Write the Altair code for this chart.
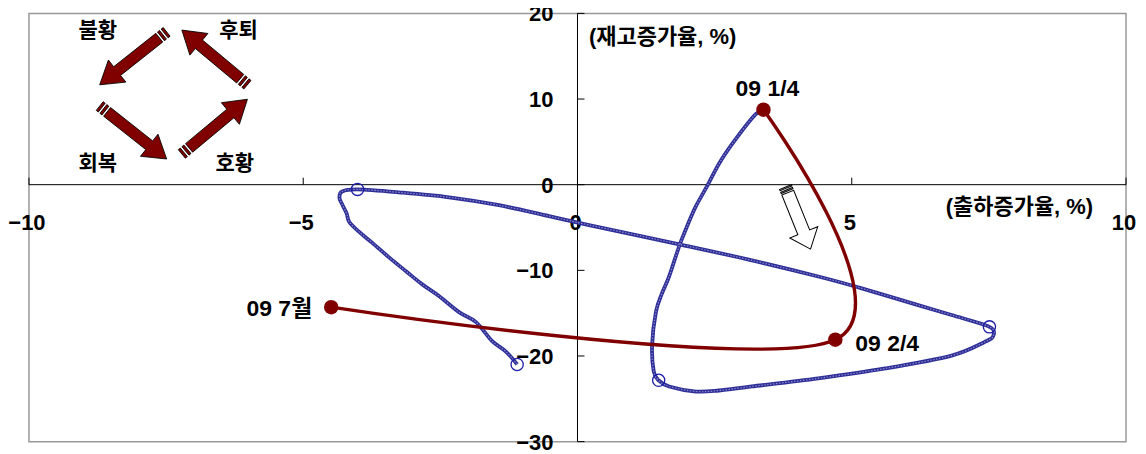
import altair as alt
import pandas as pd

# ---------------- data ----------------
X_DOMAIN = [-10, 10]
Y_DOMAIN = [-30, 20]

x_ticks = [-10, -5, 0, 5, 10]
x_tick_labels = ["−10", "−5", "0", "5", "10"]
y_ticks = [20, 10, 0, -10, -20, -30]
y_tick_labels = ["20", "10", "0", "−10", "−20", "−30"]

# historical path (shipment growth %, inventory growth %)
blue_x = [-1.10, -1.30, -1.56, -1.85, -2.16, -2.52, -2.83, -3.12, -3.43, -3.74,
          -3.98, -4.16, -4.21, -4.30, -4.34, -4.29, -4.01, -3.25, -2.34, -1.43,
          -0.52, 0.21, 1.90, 3.12, 4.39, 5.12, 6.21, 6.82, 7.51, 7.58,
          7.43, 6.82, 5.61, 4.39, 3.18, 2.58, 2.16, 1.67, 1.48, 1.39,
          1.36, 1.43, 1.54, 1.67, 1.85, 1.97, 2.15, 2.35, 2.58, 2.82,
          3.18, 3.30]
blue_y = [-20.99, -19.51, -18.24, -16.04, -14.88, -13.03, -11.64, -10.14, -8.52, -6.79,
          -5.52, -4.36, -3.33, -2.17, -1.48, -0.79, -0.55, -0.90, -1.48, -2.40,
          -3.67, -4.71, -7.02, -8.75, -10.72, -11.99, -14.06, -15.22, -16.60, -17.64,
          -18.34, -19.95, -21.46, -22.61, -23.56, -24.03, -24.15, -23.56, -22.84, -21.80,
          -18.79, -14.86, -12.70, -10.72, -7.25, -5.29, -2.63, -0.32, 2.45, 4.76,
          7.76, 8.45]
blue_mark_x = [-1.10, -4.01, 7.51, 1.48]
blue_mark_y = [-20.99, -0.55, -16.60, -22.84]

red_labels = ["09 1/4", "09 2/4", "09 7월"]
red_x = [3.39, 4.70, -4.49]
red_y = [8.76, -18.10, -14.30]

x_title = "(출하증가율, %)"
y_title = "(재고증가율, %)"

cycle_labels = ["불황", "후퇴", "회복", "호황"]
cycle_label_x = [-8.745, -6.18, -8.745, -6.25]
cycle_label_y = [17.92, 17.92, 2.45, 2.45]
cycle_arrow_x = [-8.10, -6.615, -8.10, -6.615]
cycle_arrow_y = [14.75, 14.86, 6.09, 6.78]
cycle_arrow_angle = [141.65, 219.8, 38.35, 320.2]

move_arrow_x = [4.02]
move_arrow_y = [-3.90]
move_arrow_angle = [68]

# ---------------- styles ----------------
NUM_FONT = "Liberation Sans, Arial, Noto Sans CJK KR"
KR_FONT = "Liberation Sans, Noto Sans CJK KR"
DARK_RED = "#800000"
BLUE = "#2e2e96"
BLUE_LIGHT = "#8a8ad2"

RED_ARROW = ("M-1,-0.13L-0.94,-0.13L-0.94,0.13L-1,0.13Z "
             "M-0.89,-0.13L-0.83,-0.13L-0.83,0.13L-0.89,0.13Z "
             "M-0.78,-0.13L0.48,-0.13L0.48,-0.33L1,0L0.48,0.33L0.48,0.13L-0.78,0.13Z")
WHITE_ARROW = ("M-1,-0.19L-0.96,-0.19L-0.96,0.19L-1,0.19Z "
               "M-0.91,-0.19L-0.87,-0.19L-0.87,0.19L-0.91,0.19Z "
               "M-0.82,-0.19L0.46,-0.19L0.46,-0.45L1,0L0.46,0.45L0.46,0.19L-0.82,0.19Z")

xs = alt.Scale(domain=X_DOMAIN, nice=False, zero=False)
ys = alt.Scale(domain=Y_DOMAIN, nice=False, zero=False)


def X(f):
    return alt.X(f, type="quantitative", scale=xs, axis=None)


def Y(f):
    return alt.Y(f, type="quantitative", scale=ys, axis=None)


layers = []

# axis lines
layers.append(alt.Chart(pd.DataFrame({"a": [X_DOMAIN[0]], "b": [X_DOMAIN[1]], "z": [0]}))
              .mark_rule(color="black", strokeWidth=1)
              .encode(x=X("a"), x2="b", y=Y("z")))
layers.append(alt.Chart(pd.DataFrame({"a": [Y_DOMAIN[0]], "b": [Y_DOMAIN[1]], "z": [0]}))
              .mark_rule(color="black", strokeWidth=1)
              .encode(y=Y("a"), y2="b", x=X("z")))

# ticks
xt = pd.DataFrame({"v": x_ticks, "z": [0] * len(x_ticks), "lab": x_tick_labels})
yt = pd.DataFrame({"v": y_ticks, "z": [0] * len(y_ticks), "lab": y_tick_labels})
layers.append(alt.Chart(xt).mark_rule(color="black", strokeWidth=1, y2Offset=-7)
              .encode(x=X("v"), y=Y("z"), y2="z"))
layers.append(alt.Chart(yt).mark_rule(color="black", strokeWidth=1, x2Offset=7)
              .encode(y=Y("v"), x=X("z"), x2="z"))
layers.append(alt.Chart(xt).mark_text(font=NUM_FONT, fontSize=22, fontWeight="bold",
                                      align="center", baseline="middle", dx=-2, dy=38,
                                      color="black")
              .encode(x=X("v"), y=Y("z"), text="lab:N"))
layers.append(alt.Chart(yt).mark_text(font=NUM_FONT, fontSize=22, fontWeight="bold",
                                      align="right", baseline="middle", dx=-24, dy=1,
                                      color="black")
              .encode(y=Y("v"), x=X("z"), text="lab:N"))

# axis titles
layers.append(alt.Chart(pd.DataFrame({"x": [0.21], "y": [17.23], "t": [y_title]}))
              .mark_text(font=KR_FONT, fontSize=22, fontWeight="bold", align="left",
                         baseline="middle", color="black")
              .encode(x=X("x"), y=Y("y"), text="t:N"))
layers.append(alt.Chart(pd.DataFrame({"x": [9.40], "y": [-2.63], "t": [x_title]}))
              .mark_text(font=KR_FONT, fontSize=22, fontWeight="bold", align="right",
                         baseline="middle", color="black")
              .encode(x=X("x"), y=Y("y"), text="t:N"))

# blue historical path (dark line with a light dotted core for the chain texture)
bdf = pd.DataFrame({"x": blue_x, "y": blue_y, "i": list(range(len(blue_x)))})
layers.append(alt.Chart(bdf).mark_line(color=BLUE, strokeWidth=3.8, interpolate="cardinal", tension=0)
              .encode(x=X("x"), y=Y("y"), order="i:Q"))
layers.append(alt.Chart(bdf).mark_line(color=BLUE_LIGHT, strokeWidth=1.2, strokeDash=[1.5, 1.5],
                                       interpolate="cardinal", tension=0)
              .encode(x=X("x"), y=Y("y"), order="i:Q"))
layers.append(alt.Chart(pd.DataFrame({"x": blue_mark_x, "y": blue_mark_y}))
              .mark_point(shape="circle", filled=False, stroke="#1c1ca8", strokeWidth=1.3,
                          size=150, opacity=1)
              .encode(x=X("x"), y=Y("y")))

# red 2009 path
rdf = pd.DataFrame({"x": red_x, "y": red_y, "i": list(range(len(red_x))), "lab": red_labels})
layers.append(alt.Chart(rdf).mark_line(color=DARK_RED, strokeWidth=3.4, interpolate="cardinal", tension=0)
              .encode(x=X("x"), y=Y("y"), order="i:Q"))
layers.append(alt.Chart(rdf).mark_point(shape="circle", filled=True, color=DARK_RED,
                                        size=210, opacity=1)
              .encode(x=X("x"), y=Y("y")))
label_styles = [("center", 4, -21), ("left", 20, 4), ("right", -19, 2)]
for k, (al, ddx, ddy) in enumerate(label_styles):
    layers.append(alt.Chart(rdf.iloc[[k]]).mark_text(font=KR_FONT, fontSize=23, fontWeight="bold",
                                                   align=al, baseline="middle", dx=ddx, dy=ddy,
                                                   color="black")
                  .encode(x=X("x"), y=Y("y"), text="lab:N"))

# business-cycle diagram
layers.append(alt.Chart(pd.DataFrame({"x": cycle_arrow_x, "y": cycle_arrow_y, "a": cycle_arrow_angle}))
              .mark_point(shape=RED_ARROW, filled=True, fill=DARK_RED, stroke="black",
                          strokeWidth=0.8, size=7310, opacity=1)
              .encode(x=X("x"), y=Y("y"), angle=alt.Angle("a:Q", scale=None)))
layers.append(alt.Chart(pd.DataFrame({"x": cycle_label_x, "y": cycle_label_y, "t": cycle_labels}))
              .mark_text(font=KR_FONT, fontSize=21, fontWeight="bold", align="center",
                         baseline="middle", color="black")
              .encode(x=X("x"), y=Y("y"), text="t:N"))

# movement arrow
layers.append(alt.Chart(pd.DataFrame({"x": move_arrow_x, "y": move_arrow_y, "a": move_arrow_angle}))
              .mark_point(shape=WHITE_ARROW, filled=True, fill="white", stroke="black",
                          strokeWidth=1, size=4490, opacity=1)
              .encode(x=X("x"), y=Y("y"), angle=alt.Angle("a:Q", scale=None)))

chart = (alt.layer(*layers)
         .properties(width=1099, height=429,
                     autosize=alt.AutoSizeParams(type="none"),
                     padding={"left": 21, "top": 5, "right": 12, "bottom": 12})
         .configure_view(stroke="#999999", strokeWidth=1.5))

chart.save("out.html", embed_options={"renderer": "svg", "actions": False})
